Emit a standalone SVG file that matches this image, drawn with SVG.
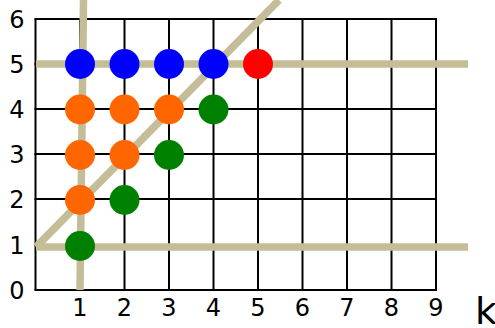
<svg xmlns="http://www.w3.org/2000/svg" width="495" height="328" viewBox="0 0 495 328">
<style>
.grid line{stroke:#000;stroke-width:2}
.conn line{stroke:#C4BD97;stroke-width:7.5}
.lbl{font-family:"DejaVu Sans",sans-serif;font-size:24px;fill:#000;text-anchor:middle}
.blue{fill:#0000FF}.red{fill:#FF0000}.orange{fill:#FF6600}.green{fill:#008000}
</style>
<rect width="495" height="328" fill="#fff"/>
<g class="grid">
<line x1="35.5" y1="19" x2="35.5" y2="290"/>
<line x1="80" y1="19" x2="80" y2="290"/>
<line x1="124.5" y1="19" x2="124.5" y2="290"/>
<line x1="169" y1="19" x2="169" y2="290"/>
<line x1="213.5" y1="19" x2="213.5" y2="290"/>
<line x1="258" y1="19" x2="258" y2="290"/>
<line x1="302.5" y1="19" x2="302.5" y2="290"/>
<line x1="347" y1="19" x2="347" y2="290"/>
<line x1="391.5" y1="19" x2="391.5" y2="290"/>
<line x1="436" y1="19" x2="436" y2="290"/>
<line x1="34.5" y1="19" x2="437" y2="19"/>
<line x1="34.5" y1="64" x2="437" y2="64"/>
<line x1="34.5" y1="109" x2="437" y2="109"/>
<line x1="34.5" y1="154" x2="437" y2="154"/>
<line x1="34.5" y1="199" x2="437" y2="199"/>
<line x1="34.5" y1="245" x2="437" y2="245"/>
<line x1="34.5" y1="290" x2="437" y2="290"/>
</g>
<g class="conn">
<line x1="83.5" y1="0" x2="80" y2="290"/>
<line x1="36" y1="64" x2="468" y2="64"/>
<line x1="36" y1="247" x2="468" y2="247"/>
<line x1="36" y1="247" x2="279" y2="0"/>
</g>
<g id="n-1-5"><circle class="blue" cx="80" cy="64" r="15"/></g>
<g id="n-2-5"><circle class="blue" cx="124.5" cy="64" r="15"/></g>
<g id="n-3-5"><circle class="blue" cx="169" cy="64" r="15"/></g>
<g id="n-4-5"><circle class="blue" cx="213.5" cy="64" r="15"/></g>
<g id="n-5-5"><circle class="red" cx="258" cy="64" r="15"/></g>
<g id="n-1-4"><circle class="orange" cx="80" cy="109.5" r="15"/></g>
<g id="n-2-4"><circle class="orange" cx="124.5" cy="109.5" r="15"/></g>
<g id="n-3-4"><circle class="orange" cx="169" cy="109.5" r="15"/></g>
<g id="n-4-4"><circle class="green" cx="213.5" cy="109.5" r="15"/></g>
<g id="n-1-3"><circle class="orange" cx="80" cy="155" r="15"/></g>
<g id="n-2-3"><circle class="orange" cx="124.5" cy="155" r="15"/></g>
<g id="n-3-3"><circle class="green" cx="169" cy="155" r="15"/></g>
<g id="n-1-2"><circle class="orange" cx="80" cy="200" r="15"/></g>
<g id="n-2-2"><circle class="green" cx="124.5" cy="200" r="15"/></g>
<g id="n-1-1"><circle class="green" cx="80" cy="246" r="15"/></g>
<g id="ylabels">
<text class="lbl" x="17" y="28">6</text>
<text class="lbl" x="17" y="73">5</text>
<text class="lbl" x="17" y="118">4</text>
<text class="lbl" x="17" y="163">3</text>
<text class="lbl" x="17" y="208">2</text>
<text class="lbl" x="17" y="254">1</text>
<text class="lbl" x="17" y="299">0</text>
</g>
<g id="xlabels">
<text class="lbl" x="80" y="316">1</text>
<text class="lbl" x="124.5" y="316">2</text>
<text class="lbl" x="169" y="316">3</text>
<text class="lbl" x="213.5" y="316">4</text>
<text class="lbl" x="258" y="316">5</text>
<text class="lbl" x="302.5" y="316">6</text>
<text class="lbl" x="347" y="316">7</text>
<text class="lbl" x="391.5" y="316">8</text>
<text class="lbl" x="436" y="316">9</text>
</g>
<text x="475" y="324" font-family="DejaVu Sans, sans-serif" font-size="38">k</text>
</svg>
